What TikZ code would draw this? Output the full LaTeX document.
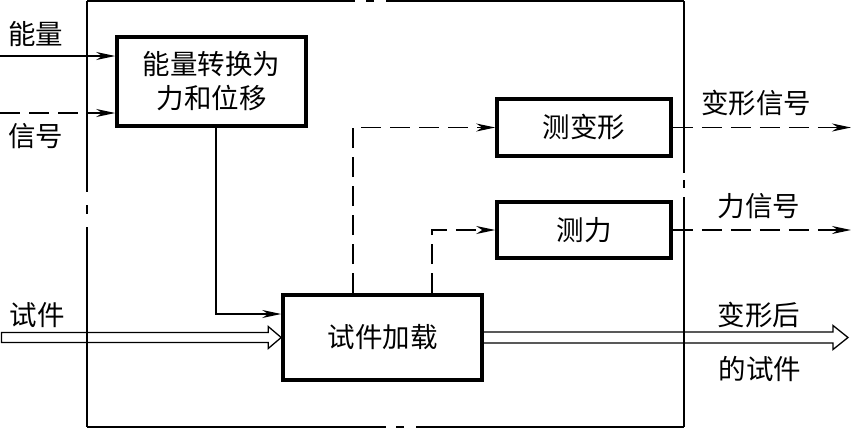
\documentclass[tikz,border=0pt]{standalone}
\usepackage{fontspec}
\newfontfamily\cjk{Noto Sans CJK SC}
\usetikzlibrary{arrows.meta,calc}
\begin{document}
\begin{tikzpicture}[x=1pt,y=-1pt,
  txt/.style={font=\cjk\fontsize{27.5}{34}\selectfont, inner sep=0pt, align=center},
  box/.style={txt, draw, line width=3.6pt},
  thinline/.style={line width=1.3pt},
  dsh/.style={thinline, dash pattern=on 20pt off 9pt},
  tip/.style={-{Stealth[length=19pt,width=8pt,inset=6pt]}},
  hollow/.style={line width=1.3pt, line join=miter}]
\useasboundingbox (0,0) rectangle (851,429);
% outer frame (chain line)
\draw[thinline] (87,1) -- (355,1) (366,1) -- (374,1) (386,1) -- (684,1);
\draw[thinline] (87,427) -- (386,427) (396,427) -- (404,427) (416,427) -- (684,427);
\draw[thinline] (87,1) -- (87,192) (87,205) -- (87,214) (87,227) -- (87,427);
\draw[thinline] (684,1) -- (684,173) (684,180) -- (684,188) (684,197) -- (684,427);
% boxes
\node[box, minimum width=189pt, minimum height=89pt] (conv) at (211.5,81.5) {能量转换为\\力和位移};
\node[box, minimum width=174pt, minimum height=57pt] (measure) at (584,127.5) {测变形};
\node[box, minimum width=174pt, minimum height=56pt] (force) at (584,230) {测力};
\node[box, minimum width=199pt, minimum height=85pt] (load) at (382.5,337.5) {试件加载};
% labels
\node[txt] (lenergy) at (36,34) {能量};
\node[txt] (lsignal) at (36,136) {信号};
\node[txt] (lspec) at (37,315) {试件};
\node[txt] (ldef) at (756,103) {变形信号};
\node[txt] (lforce) at (759,206) {力信号};
\node[txt] (lout1) at (759,315) {变形后};
\node[txt] (lout2) at (760,369) {的试件};
% inputs
\coordinate (ein) at (0,56);
\coordinate (sin) at (0,113);
\draw[thinline,tip] (ein) -- (conv.west |- ein);
\draw[dsh,tip] (sin) -- (conv.west |- sin);
\draw[thinline,tip] ([xshift=4.5pt]conv.south) |- ([yshift=23.5pt]load.west);
% measurement branches
\draw[dsh,tip] ([xshift=-29.5pt]load.north) |- (measure.west);
\draw[dsh,tip] ([xshift=49.5pt]load.north) |- (force.west);
% outputs
\coordinate (mout) at (851,127.5);
\coordinate (fout) at (851,230);
\draw[dsh,tip] (measure.east) -- (mout);
\draw[dsh,tip] (force.east) -- (fout);
% specimen hollow arrows
\coordinate (specin) at (1.5,337.5);
\coordinate (specout) at (848,337.5);
\draw[hollow] ($(specin)+(0,-5)$) -- ($(load.west)+(-13,-5)$) -- ($(load.west)+(-13,-11)$) -- (load.west)
  -- ($(load.west)+(-13,11)$) -- ($(load.west)+(-13,5)$) -- ($(specin)+(0,5)$) -- cycle;
\draw[hollow] ($(load.east)+(0,-5.5)$) -- ($(specout)+(-15,-5.5)$) -- ($(specout)+(-15,-12)$) -- (specout)
  -- ($(specout)+(-15,12)$) -- ($(specout)+(-15,5.5)$) -- ($(load.east)+(0,5.5)$);
\end{tikzpicture}
\end{document}
